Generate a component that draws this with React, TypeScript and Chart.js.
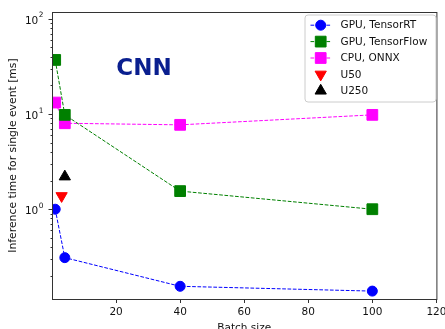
import React, { useEffect, useRef } from "react";
import { Chart, registerables } from "chart.js";

Chart.register(...registerables);

// ---- data ----
const batchSizes = [1, 4, 40, 100];
const gpuTensorRT = [1.0, 0.31, 0.155, 0.138];
const gpuTensorFlow = [37, 9.8, 1.55, 1.0];
const cpuOnnx = [13.2, 8.0, 7.7, 9.8];
const u50Batch = [3];
const u50Time = [1.38];
const u250Batch = [4];
const u250Time = [2.2];

const seriesLabels = ["GPU, TensorRT", "GPU, TensorFlow", "CPU, ONNX", "U50", "U250"];
const xTicks = [20, 40, 60, 80, 100, 120];
const yMajorTicks = [1, 10, 100];
const yTickBase = "10";
const yTickExponents = ["0", "1", "2"];
const yMinorMultipliers = [2, 3, 4, 5, 6, 7, 8, 9];
const xLabel = "Batch size";
const yLabel = "Inference time for single event [ms]";
const annotation = "CNN";

const FONT = "'DejaVu Sans', sans-serif";
const AXIS_COLOR = "#333333";
const TEXT_COLOR = "#111111";

function toPts(xs: number[], ys: number[]) {
  return xs.map((x, i) => ({ x, y: ys[i] }));
}

function drawMarker(ctx: CanvasRenderingContext2D, style: string, x: number, y: number, r: number, rot: number, color: string) {
  ctx.save();
  ctx.fillStyle = color;
  ctx.strokeStyle = color;
  ctx.lineWidth = 1;
  ctx.setLineDash([]);
  ctx.beginPath();
  if (style === "circle") {
    ctx.arc(x, y, r, 0, Math.PI * 2);
  } else if (style === "rect") {
    const s = Math.SQRT1_2 * r;
    ctx.rect(x - s, y - s, 2 * s, 2 * s);
  } else if (style === "triangle") {
    let rad = (rot * Math.PI) / 180;
    for (let k = 0; k < 3; k++) {
      const px = x + Math.sin(rad) * r;
      const py = y - Math.cos(rad) * r;
      if (k === 0) ctx.moveTo(px, py);
      else ctx.lineTo(px, py);
      rad += (2 * Math.PI) / 3;
    }
    ctx.closePath();
  }
  ctx.fill();
  ctx.stroke();
  ctx.restore();
}

const decorPlugin = {
  id: "decor",
  afterDraw(chart: any) {
    const { ctx, chartArea } = chart;
    const { left, right, top, bottom } = chartArea;
    const xs = chart.scales.x;
    const ys = chart.scales.y;
    ctx.save();
    // frame
    ctx.strokeStyle = AXIS_COLOR;
    ctx.lineWidth = 1;
    ctx.setLineDash([]);
    ctx.strokeRect(left + 0.5, top + 0.5, right - left, bottom - top);
    // x ticks
    ctx.beginPath();
    xTicks.forEach((v) => {
      const p = Math.round(xs.getPixelForValue(v)) + 0.5;
      ctx.moveTo(p, bottom + 0.5);
      ctx.lineTo(p, bottom + 4);
    });
    // y ticks
    yMajorTicks.forEach((v) => {
      const p = Math.round(ys.getPixelForValue(v)) + 0.5;
      ctx.moveTo(left + 0.5, p);
      ctx.lineTo(left - 3.5, p);
    });
    const decades = [0.1, 1, 10];
    decades.forEach((d) => {
      yMinorMultipliers.forEach((m) => {
        const v = d * m;
        if (v < ys.min || v > ys.max) return;
        const p = Math.round(ys.getPixelForValue(v)) + 0.5;
        ctx.moveTo(left + 0.5, p);
        ctx.lineTo(left - 1.5, p);
      });
    });
    ctx.stroke();

    // y tick labels (10 with superscript exponent)
    ctx.fillStyle = TEXT_COLOR;
    ctx.textBaseline = "alphabetic";
    yMajorTicks.forEach((v, i) => {
      const p = ys.getPixelForValue(v);
      const rightEdge = left - 8.5;
      ctx.font = `7.4px ${FONT}`;
      ctx.textAlign = "right";
      const ew = ctx.measureText(yTickExponents[i]).width;
      ctx.fillText(yTickExponents[i], rightEdge, p - 1.5);
      ctx.font = `10.5px ${FONT}`;
      ctx.fillText(yTickBase, rightEdge - ew - 0.5, p + 4.8);
    });

    // axis titles
    ctx.fillStyle = TEXT_COLOR;
    ctx.font = `10.5px ${FONT}`;
    ctx.textAlign = "center";
    ctx.textBaseline = "middle";
    ctx.fillText(xLabel, (left + right) / 2, 328);
    ctx.save();
    ctx.translate(13.5, (top + bottom) / 2);
    ctx.rotate(-Math.PI / 2);
    ctx.font = `10.8px ${FONT}`;
    ctx.fillText(yLabel, 0, 0);
    ctx.restore();

    // annotation
    ctx.fillStyle = "#0a1f8f";
    ctx.font = `bold 23px ${FONT}`;
    ctx.fillText(annotation, 144, 69);

    // legend
    const bx = 305, by = 15, bw = 131, bh = 87;
    ctx.beginPath();
    const rr = 3;
    ctx.moveTo(bx + rr, by);
    ctx.arcTo(bx + bw, by, bx + bw, by + bh, rr);
    ctx.arcTo(bx + bw, by + bh, bx, by + bh, rr);
    ctx.arcTo(bx, by + bh, bx, by, rr);
    ctx.arcTo(bx, by, bx + bw, by, rr);
    ctx.closePath();
    ctx.fillStyle = "rgba(255,255,255,0.85)";
    ctx.fill();
    ctx.strokeStyle = "#cccccc";
    ctx.lineWidth = 1;
    ctx.stroke();

    chart.data.datasets.forEach((ds: any, i: number) => {
      const cy = 25.2 + i * 16.4;
      if (ds.showLine) {
        ctx.save();
        ctx.strokeStyle = ds.borderColor;
        ctx.lineWidth = ds.borderWidth;
        ctx.setLineDash(ds.borderDash || []);
        ctx.beginPath();
        ctx.moveTo(310.5, cy);
        ctx.lineTo(331, cy);
        ctx.stroke();
        ctx.restore();
      }
      drawMarker(ctx, ds.pointStyle, 320.7, cy, ds.pointRadius, ds.pointRotation || 0, ds.backgroundColor);
      ctx.fillStyle = TEXT_COLOR;
      ctx.font = `10.5px ${FONT}`;
      ctx.textAlign = "left";
      ctx.textBaseline = "middle";
      ctx.fillText(ds.label, 340.5, cy + 0.5);
    });
    ctx.restore();
  },
};

export default function App() {
  const ref = useRef<HTMLCanvasElement | null>(null);
  useEffect(() => {
    document.body.style.margin = "0";
    const canvas = ref.current;
    if (!canvas) return;
    const dash = [3.7, 1.6];
    const chart = new Chart(canvas, {
      type: "scatter",
      data: {
        datasets: [
          {
            label: seriesLabels[0],
            data: toPts(batchSizes, gpuTensorRT),
            showLine: true,
            borderColor: "#0000ff",
            backgroundColor: "#0000ff",
            borderWidth: 1,
            borderDash: dash,
            pointStyle: "circle",
            pointRadius: 5,
            pointBorderWidth: 1,
          },
          {
            label: seriesLabels[1],
            data: toPts(batchSizes, gpuTensorFlow),
            showLine: true,
            borderColor: "#008000",
            backgroundColor: "#008000",
            borderWidth: 1,
            borderDash: dash,
            pointStyle: "rect",
            pointRadius: 7.6,
            pointBorderWidth: 1,
          },
          {
            label: seriesLabels[2],
            data: toPts(batchSizes, cpuOnnx),
            showLine: true,
            borderColor: "#ff00ff",
            backgroundColor: "#ff00ff",
            borderWidth: 1,
            borderDash: dash,
            pointStyle: "rect",
            pointRadius: 7.6,
            pointBorderWidth: 1,
          },
          {
            label: seriesLabels[3],
            data: toPts(u50Batch, u50Time),
            showLine: false,
            borderColor: "#ff0000",
            backgroundColor: "#ff0000",
            pointStyle: "triangle",
            pointRotation: 180,
            pointRadius: 6.5,
            pointBorderWidth: 1,
          },
          {
            label: seriesLabels[4],
            data: toPts(u250Batch, u250Time),
            showLine: false,
            borderColor: "#000000",
            backgroundColor: "#000000",
            pointStyle: "triangle",
            pointRadius: 6.5,
            pointBorderWidth: 1,
          },
        ],
      } as any,
      options: {
        responsive: false,
        animation: false,
        events: [],
        layout: { padding: { left: 0, top: 12, right: 6, bottom: 0 } },
        plugins: { legend: { display: false }, tooltip: { enabled: false } },
        scales: {
          x: {
            type: "linear",
            min: 0,
            max: 120,
            border: { display: false },
            grid: { display: false, drawTicks: true, tickLength: 3.5 },
            afterBuildTicks: (s: any) => {
              s.ticks = xTicks.map((v) => ({ value: v }));
            },
            afterFit: (s: any) => {
              s.height = 30;
              s.paddingLeft = 0;
              s.paddingRight = 0;
            },
            ticks: {
              autoSkip: false,
              maxRotation: 0,
              padding: 3,
              color: TEXT_COLOR,
              font: { family: FONT, size: 10.5 },
              callback: (v: any) => String(v),
            },
          },
          y: {
            type: "logarithmic",
            min: 0.114,
            max: 118,
            border: { display: false },
            grid: { display: false, drawTicks: true, tickLength: 3.5 },
            afterBuildTicks: (s: any) => {
              s.ticks = yMajorTicks.map((v) => ({ value: v }));
            },
            afterFit: (s: any) => {
              s.width = 52;
              s.paddingTop = 0;
              s.paddingBottom = 0;
            },
            ticks: {
              display: false,
            },
          },
        },
      } as any,
      plugins: [decorPlugin],
    });
    return () => chart.destroy();
  }, []);
  return (
    <div style={{ position: "absolute", left: 0, top: 0, width: 445, height: 329, background: "#fff" }}>
      <canvas ref={ref} width={445} height={329} style={{ width: 445, height: 329, display: "block" }} />
    </div>
  );
}
